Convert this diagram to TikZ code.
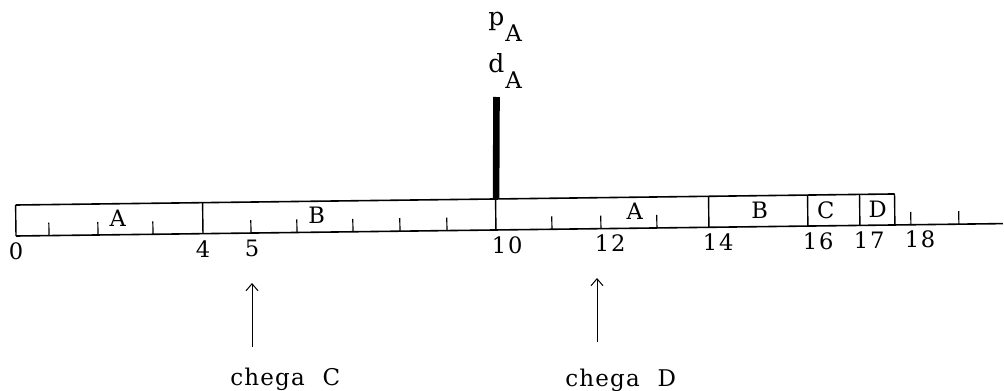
\documentclass[tikz,border=0pt]{standalone}
\usepackage{fontspec}
\setmainfont{DejaVu Serif}
\newfontfamily\numface{DejaVu Serif}[LetterSpace=8]
\newfontfamily\wideface{DejaVu Serif}[LetterSpace=5]
\usetikzlibrary{arrows.meta}

\begin{document}
\begin{tikzpicture}[x=0.5pt, y=-0.5pt,
  rulerline/.style={line width=0.8pt},
  divider/.style={line width=0.7pt},
  tickmark/.style={line width=0.6pt},
  bar/.style={line width=3.3pt},
  num/.style={font=\numface\fontsize{11.3}{13}\selectfont, inner sep=0pt},
  job/.style={font=\fontsize{11.3}{13}\selectfont, inner sep=0pt},
  lead/.style={font=\fontsize{12.5}{14}\selectfont, inner sep=0pt, anchor=base west},
  chegalbl/.style={font=\wideface\fontsize{11.5}{13}\selectfont, inner sep=0pt, anchor=base west},
  arr/.style={line width=0.5pt, -{Straight Barb[length=3.5pt,width=6pt]}}
]
\useasboundingbox (0,0) rectangle (1004,390);

% ---- time axis and jobs (tilted a little, like the scan) ----
\begin{scope}[rotate around={0.72:(16,236)}]
  \draw[rulerline] (16,205) -- (895,205);
  \draw[rulerline] (16,236) -- (1003,236);
  \foreach \x in {16,203,496,709,808,860,895}
    \draw[divider] (\x,205) -- (\x,236);
  \foreach \x in {49,98,153,251,297,353,400,447,552,601,657,911,959}
    \draw[tickmark] (\x,236) -- (\x,223);
  \coordinate (slot) at (496.5,205);

  \node[job] (jA1) at (118,219.5) {A};
  \node[job] (jB1) at (317,219)   {B};
  \node[job] (jA2) at (635,219.5) {A};
  \node[job] (jB2) at (760,219.5) {B};
  \node[job] (jC)  at (826,220)   {C};
  \node[job] (jD)  at (878,220)   {D};

  \foreach \x/\t in {16/0,203/4,252/5,507/10,610/12,718/14,818/16,869/17,920/18}
    \node[num] (t\t) at (\x,251) {\t};
\end{scope}

% ---- priority / deadline of A ----
\node[lead] (pA) at (488,26) {p\kern0.5pt\raisebox{-8pt}{\fontsize{11.5}{13}\selectfont A}};
\node[lead] (dA) at (488,73) {d\kern0.5pt\raisebox{-8pt}{\fontsize{11.5}{13}\selectfont A}};
\draw[bar] (496.5,97) -- (slot);

% ---- arrivals ----
\coordinate (footC) at (252,347);
\coordinate (tipC)  at (252,283);
\coordinate (footD) at (597,342);
\coordinate (tipD)  at (597,278);
\draw[arr] (footC) -- (tipC);
\draw[arr] (footD) -- (tipD);
\node[chegalbl] (chegaC) at (230,385) {chega\hspace{9pt}C};
\node[chegalbl] (chegaD) at (565,386) {chega\hspace{9pt}D};

\end{tikzpicture}
\end{document}
